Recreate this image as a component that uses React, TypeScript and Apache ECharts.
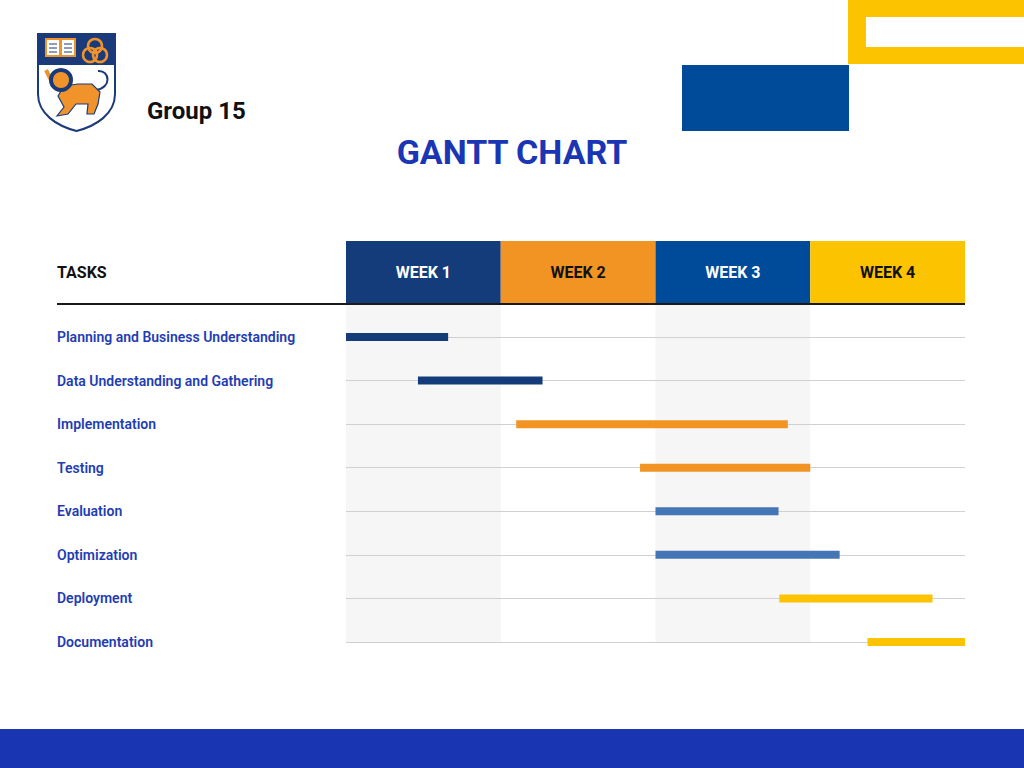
import React, { useEffect, useRef } from "react";
import * as echarts from "echarts";

const TASKS = [
  "Planning and Business Understanding",
  "Data Understanding and Gathering",
  "Implementation",
  "Testing",
  "Evaluation",
  "Optimization",
  "Deployment",
  "Documentation",
];
// start / end of each task, in weeks from the beginning of week 1
const TASK_START = [0, 0.465, 1.1, 1.9, 2.0, 2.0, 2.8, 3.37];
const TASK_END = [0.66, 1.27, 2.855, 3.0, 2.795, 3.19, 3.79, 4.0];
const WEEKS = ["WEEK 1", "WEEK 2", "WEEK 3", "WEEK 4"];

const WEEK_COLORS = ["#143c7a", "#f29423", "#004a9a", "#fcc400"];
const WEEK_TEXT = ["#ffffff", "#111111", "#ffffff", "#111111"];
const BAR_COLORS = ["#143c7a", "#143c7a", "#f29423", "#f29423", "#4475b5", "#4475b5", "#fcc400", "#fcc400"];

const FONT = "Roboto";
const HEADER_H = 62;
const BAR_H = 8;
const NAVY = "#1b3a7a";
const ORANGE = "#f0932a";

echarts.graphic.registerShape(
  "shield",
  echarts.graphic.extendPath("M0 0 H77 V60 C77 80 58 92 38.5 97 C19 92 0 80 0 60 Z", {})
);

const App: React.FC = () => {
  const chartRef = useRef<HTMLDivElement>(null);

  useEffect(() => {
    if (!chartRef.current) return;
    const chart = echarts.init(chartRef.current, null, { renderer: "svg" });

    const option = {
      animation: false,
      backgroundColor: "#ffffff",
      title: {
        text: "GANTT CHART",
        left: "center",
        top: 130,
        textStyle: { color: "#1a36b4", fontSize: 34, fontWeight: "bold", fontFamily: FONT },
      },
      grid: [
        { left: 346, right: 59, top: 337, bottom: 126 },
        { left: 346, right: 59, top: 241, bottom: 126 },
      ],
      xAxis: [
        { gridIndex: 0, type: "value", min: 0, max: 4, show: false },
        { gridIndex: 1, type: "category", data: WEEKS, show: false },
      ],
      yAxis: [
        {
          gridIndex: 0,
          type: "category",
          data: TASKS,
          inverse: true,
          boundaryGap: false,
          axisLine: { show: false },
          axisTick: { show: false },
          axisLabel: {
            align: "left",
            margin: 289,
            color: "#1f3db3",
            fontSize: 14,
            fontWeight: 600,
            fontFamily: FONT,
          },
          splitLine: { show: true, lineStyle: { color: "#d0d0d0", width: 1 } },
        },
        { gridIndex: 1, type: "value", min: 0, max: 1, show: false },
      ],
      series: [
        {
          type: "custom",
          xAxisIndex: 1,
          yAxisIndex: 1,
          z: -1,
          data: WEEKS.map((_, i) => [i]),
          encode: { x: 0 },
          renderItem: (params: any, api: any) => {
            const i = api.value(0);
            const cs = params.coordSys;
            const c = api.coord([i, 0]);
            const w = api.size([1, 0])[0];
            const x = c[0] - w / 2;
            const children: any[] = [];
            if (i % 2 === 0) {
              children.push({
                type: "rect",
                shape: { x, y: cs.y + HEADER_H, width: w, height: cs.height - HEADER_H },
                style: { fill: "#f6f6f6" },
              });
            }
            children.push({
              type: "rect",
              shape: { x, y: cs.y, width: w, height: HEADER_H },
              style: { fill: WEEK_COLORS[i] },
            });
            children.push({
              type: "text",
              style: {
                text: WEEKS[i],
                x: c[0],
                y: cs.y + HEADER_H / 2,
                align: "center",
                verticalAlign: "middle",
                fill: WEEK_TEXT[i],
                fontSize: 16,
                fontWeight: "bold",
                fontFamily: FONT,
              },
            });
            return { type: "group", children };
          },
        },
        {
          type: "custom",
          xAxisIndex: 0,
          yAxisIndex: 0,
          z: 5,
          data: TASKS.map((_, i) => [i, TASK_START[i], TASK_END[i]]),
          encode: { x: [1, 2], y: 0 },
          renderItem: (params: any, api: any) => {
            const row = api.value(0);
            const s = api.coord([api.value(1), row]);
            const e = api.coord([api.value(2), row]);
            return {
              type: "rect",
              shape: { x: s[0], y: s[1] - BAR_H / 2, width: e[0] - s[0], height: BAR_H },
              style: { fill: BAR_COLORS[params.dataIndex] },
            };
          },
        },
      ],
      graphic: [
        // top-right decoration
        { type: "rect", shape: { x: 848, y: 0, width: 176, height: 64 }, style: { fill: "#fcc400" } },
        { type: "rect", shape: { x: 866, y: 17, width: 158, height: 30 }, style: { fill: "#ffffff" } },
        { type: "rect", shape: { x: 682, y: 65, width: 167, height: 66 }, style: { fill: "#004a9a" } },
        // bottom band
        { type: "rect", shape: { x: 0, y: 729, width: 1024, height: 39 }, style: { fill: "#1935b2" } },
        // crest
        {
          type: "group",
          children: [
            { type: "shield", x: 38, y: 34, style: { fill: "#ffffff", stroke: NAVY, lineWidth: 2 } },
            { type: "rect", shape: { x: 38, y: 34, width: 77, height: 31 }, style: { fill: NAVY } },
            { type: "rect", shape: { x: 46, y: 39, width: 14, height: 17 }, style: { fill: "#ffffff", stroke: ORANGE, lineWidth: 2 } },
            { type: "rect", shape: { x: 61, y: 39, width: 14, height: 17 }, style: { fill: "#ffffff", stroke: ORANGE, lineWidth: 2 } },
            { type: "line", shape: { x1: 49, y1: 44, x2: 57, y2: 44 }, style: { stroke: NAVY, lineWidth: 1 } },
            { type: "line", shape: { x1: 49, y1: 48, x2: 57, y2: 48 }, style: { stroke: NAVY, lineWidth: 1 } },
            { type: "line", shape: { x1: 49, y1: 52, x2: 57, y2: 52 }, style: { stroke: NAVY, lineWidth: 1 } },
            { type: "line", shape: { x1: 64, y1: 44, x2: 72, y2: 44 }, style: { stroke: NAVY, lineWidth: 1 } },
            { type: "line", shape: { x1: 64, y1: 48, x2: 72, y2: 48 }, style: { stroke: NAVY, lineWidth: 1 } },
            { type: "line", shape: { x1: 64, y1: 52, x2: 72, y2: 52 }, style: { stroke: NAVY, lineWidth: 1 } },
            { type: "circle", shape: { cx: 95, cy: 46, r: 7 }, style: { fill: "none", stroke: ORANGE, lineWidth: 2.5 } },
            { type: "circle", shape: { cx: 90, cy: 55, r: 7 }, style: { fill: "none", stroke: ORANGE, lineWidth: 2.5 } },
            { type: "circle", shape: { cx: 100, cy: 55, r: 7 }, style: { fill: "none", stroke: ORANGE, lineWidth: 2.5 } },
            // tail
            {
              type: "bezierCurve",
              shape: { x1: 96, y1: 90, x2: 98, y2: 71, cpx1: 112, cpy1: 88, cpx2: 110, cpy2: 70 },
              style: { stroke: NAVY, lineWidth: 2, fill: "none" },
            },
            // body
            {
              type: "polygon",
              shape: {
                points: [
                  [58, 96], [64, 86], [78, 84], [92, 84], [100, 92], [98, 104], [94, 114],
                  [87, 114], [88, 104], [76, 104], [68, 114], [57, 116], [64, 107],
                ],
              },
              style: { fill: ORANGE, stroke: NAVY, lineWidth: 1.2 },
            },
            // raised paw
            { type: "polyline", shape: { points: [[54, 86], [48, 74], [46, 70]] }, style: { stroke: ORANGE, lineWidth: 4 } },
            // head with mane
            { type: "circle", shape: { cx: 61, cy: 80, r: 10 }, style: { fill: ORANGE, stroke: NAVY, lineWidth: 4 } },
          ],
        },
        {
          type: "text",
          style: { text: "Group 15", x: 147, y: 111, verticalAlign: "middle", fill: "#111111", fontSize: 24, fontWeight: "bold", fontFamily: FONT },
        },
        {
          type: "text",
          style: { text: "TASKS", x: 57, y: 272, verticalAlign: "middle", fill: "#111111", fontSize: 16, fontWeight: "bold", fontFamily: FONT },
        },
        {
          type: "line",
          z: 10,
          shape: { x1: 57, y1: 304, x2: 965, y2: 304 },
          style: { stroke: "#1a1a1a", lineWidth: 2 },
        },
      ],
    };

    chart.setOption(option);
    return () => chart.dispose();
  }, []);

  return <div ref={chartRef} style={{ position: "fixed", left: 0, top: 0, width: 1024, height: 768 }} />;
};

export default App;
